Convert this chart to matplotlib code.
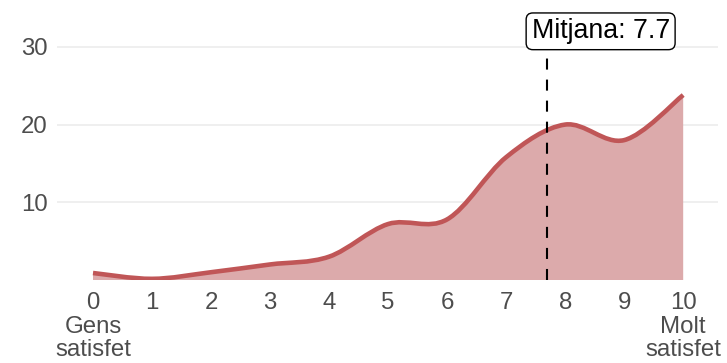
import numpy as np
import matplotlib
matplotlib.use("Agg")
import matplotlib.pyplot as plt
from matplotlib.path import Path
from matplotlib.patches import PathPatch

plt.rcParams['font.family'] = ['Liberation Sans', 'DejaVu Sans']

scores = [0, 1, 2, 3, 4, 5, 6, 7, 8, 9, 10]
percent = [0.9, 0.15, 1.0, 2.0, 3.0, 7.2, 7.8, 15.8, 20.0, 18.0, 23.8]
mean_value = 7.7
mean_label = "Mitjana: 7.7"
x_tick_labels = ["0\nGens\nsatisfet", "1", "2", "3", "4", "5", "6", "7", "8", "9", "10\nMolt\nsatisfet"]
y_ticks = [10, 20, 30]

line_color = "#c05657"
fill_color = "#dcaaab"
text_color = "#4d4d4d"


def smooth_path_vertices(xs, ys):
    pts = np.column_stack([xs, ys]).astype(float)
    n = len(pts)
    verts = [pts[0]]
    codes = [Path.MOVETO]
    for i in range(n - 1):
        p0 = pts[max(i - 1, 0)]
        p1 = pts[i]
        p2 = pts[i + 1]
        p3 = pts[min(i + 2, n - 1)]
        c1 = p1 + (p2 - p0) / 6.0
        c2 = p2 - (p3 - p1) / 6.0
        verts += [c1, c2, p2]
        codes += [Path.CURVE4] * 3
    return verts, codes


fig = plt.figure(figsize=(7.27, 3.63), dpi=100)
ax = fig.add_axes([57 / 727, (363 - 280) / 363, (718 - 57) / 727, (280 - 8) / 363])

verts, codes = smooth_path_vertices(scores, percent)

# fill
fverts = list(verts) + [(scores[-1], 0), (scores[0], 0), verts[0]]
fcodes = list(codes) + [Path.LINETO, Path.LINETO, Path.CLOSEPOLY]
ax.add_patch(PathPatch(Path(fverts, fcodes), facecolor=fill_color, edgecolor='none', zorder=2))
# line
ax.add_patch(PathPatch(Path(verts, codes), facecolor='none', edgecolor=line_color,
                       linewidth=3.3, capstyle='butt', joinstyle='round', zorder=3))

ax.set_xlim(-0.61, 10.59)
ax.set_ylim(0, 35.0)

for yv in y_ticks:
    ax.axhline(yv, color="#ebebeb", linewidth=1.1, zorder=1)

ax.axvline(mean_value, color='black', linewidth=1.5, linestyle=(0, (5.3, 4.8)), zorder=4)

ax.text(7.43, 32.0, mean_label, ha='left', va='center', fontsize=19.3, color='black', zorder=5,
        bbox=dict(boxstyle='round,pad=0.2,rounding_size=0.25', facecolor='white', edgecolor='black', linewidth=1.0))

ax.set_xticks(scores)
ax.set_xticklabels(x_tick_labels, fontsize=17.3, color=text_color, linespacing=1.1)
ax.set_yticks(y_ticks)
ax.set_yticklabels([str(v) for v in y_ticks], fontsize=17.3, color=text_color)
ax.tick_params(axis='both', length=0)
ax.tick_params(axis='x', pad=8.5)
ax.tick_params(axis='y', pad=6.5)
for s in ax.spines.values():
    s.set_visible(False)

fig.savefig("out.png", dpi=100)
